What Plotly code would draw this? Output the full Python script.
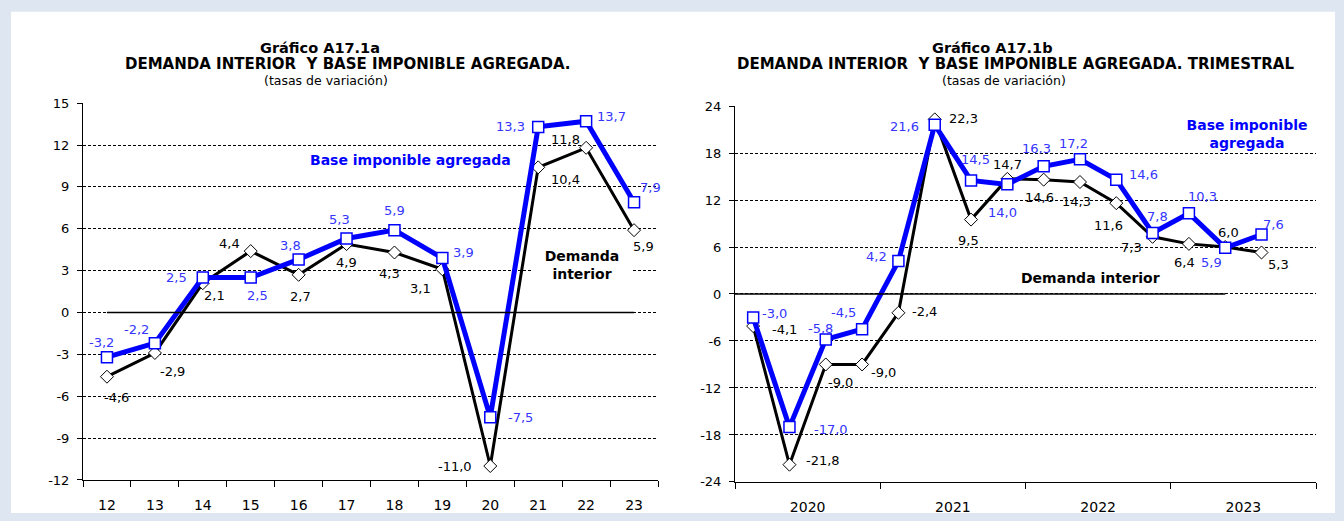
import plotly.graph_objects as go

# ---- data ----
years = ["12", "13", "14", "15", "16", "17", "18", "19", "20", "21", "22", "23"]
base_anual = [-3.2, -2.2, 2.5, 2.5, 3.8, 5.3, 5.9, 3.9, -7.5, 13.3, 13.7, 7.9]
demanda_anual = [-4.6, -2.9, 2.1, 4.4, 2.7, 4.9, 4.3, 3.1, -11.0, 10.4, 11.8, 5.9]

year_labels = ["2020", "2021", "2022", "2023"]
quarters = ["2020T1", "2020T2", "2020T3", "2020T4",
            "2021T1", "2021T2", "2021T3", "2021T4",
            "2022T1", "2022T2", "2022T3", "2022T4",
            "2023T1", "2023T2", "2023T3"]
base_trim = [-3.0, -17.0, -5.8, -4.5, 4.2, 21.6, 14.5, 14.0, 16.3, 17.2, 14.6, 7.8, 10.3, 5.9, 7.6]
demanda_trim = [-4.1, -21.8, -9.0, -9.0, -2.4, 22.3, 9.5, 14.7, 14.6, 14.3, 11.6, 7.3, 6.4, 6.0, 5.3]

yticks_a = [-12, -9, -6, -3, 0, 3, 6, 9, 12, 15]
yticks_b = [-24, -18, -12, -6, 0, 6, 12, 18, 24]

# ---- styles ----
FONT = "DejaVu Sans"
BLUE = "#0000ff"
LBLUE = "#3535ff"
BG = "#dde6f1"

# label offsets (dx, dy in px, dy positive = down)
off_base_a = [(-5, -15), (-18, -14), (-26, 0), (7, 18), (-8, -14), (-7, -19), (0, -20),
              (21, -6), (30, 0), (-28, 0), (25, -5), (16, -15)]
off_dem_a = [(10, 21), (18, 19), (12, 12), (-21, -8), (2, 22), (0, 18), (-5, 21),
             (-22, 19), (-35, 0), (27, 12), (-21, -8), (9, 16)]
off_base_t = [(21, -4), (42, 2), (-5, -11), (-19, -17), (-22, -5), (-30, 2), (4, -21),
              (-5, 28), (-7, -18), (-6, -16), (27, -5), (5, -16), (14, -17), (-14, 15), (12, -10)]
off_dem_t = [(31, 3), (34, -4), (15, 18), (21, 8), (26, -1), (29, -1), (-3, 21), (0, -14),
             (-4, 18), (-3, 19), (-8, 22), (-21, 11), (-4, 19), (3, -15), (17, 12)]

fig = go.Figure()

# ---- chart a (annual) ----
fig.add_trace(go.Scatter(
    x=years, y=demanda_anual, mode="lines+markers", xaxis="x", yaxis="y",
    line=dict(color="black", width=3),
    marker=dict(symbol="diamond", size=10, color="white", line=dict(color="black", width=1)),
    showlegend=False))
fig.add_trace(go.Scatter(
    x=years, y=base_anual, mode="lines+markers", xaxis="x", yaxis="y",
    line=dict(color=BLUE, width=5),
    marker=dict(symbol="square", size=11, color="white", line=dict(color=BLUE, width=1.5)),
    showlegend=False))

# ---- chart b (quarterly) ----
qx = [i + 0.5 for i in range(len(quarters))]
fig.add_trace(go.Scatter(
    x=qx, y=demanda_trim, mode="lines+markers", xaxis="x2", yaxis="y2",
    line=dict(color="black", width=3),
    marker=dict(symbol="diamond", size=10, color="white", line=dict(color="black", width=1)),
    showlegend=False))
fig.add_trace(go.Scatter(
    x=qx, y=base_trim, mode="lines+markers", xaxis="x2", yaxis="y2",
    line=dict(color=BLUE, width=5),
    marker=dict(symbol="square", size=11, color="white", line=dict(color=BLUE, width=1.5)),
    showlegend=False))

annotations = []


def fmt(v):
    return f"{v:.1f}".replace(".", ",")


def add_labels(xs, vals, offs, xref, yref, color):
    for xv, v, (dx, dy) in zip(xs, vals, offs):
        annotations.append(dict(x=xv, y=v, xref=xref, yref=yref, text=fmt(v), showarrow=False,
                                xanchor="center", yanchor="middle",
                                xshift=dx, yshift=-dy, font=dict(color=color, size=13, family=FONT)))


add_labels(list(range(len(years))), base_anual, off_base_a, "x", "y", LBLUE)
add_labels(list(range(len(years))), demanda_anual, off_dem_a, "x", "y", "black")
add_labels(qx, base_trim, off_base_t, "x2", "y2", LBLUE)
add_labels(qx, demanda_trim, off_dem_t, "x2", "y2", "black")

W, H = 1344, 521


def note(cx, cy, text, size, color="black", **kw):
    annotations.append(dict(x=cx / W, y=1 - cy / H, xref="paper", yref="paper", text=text,
                            showarrow=False, xanchor="center", yanchor="middle",
                            font=dict(size=size, family=FONT, color=color), **kw))


# titles
note(320, 42, "<b>Gráfico A17.1a</b>", 14.5)
note(992, 42, "<b>Gráfico A17.1b</b>", 14.5)
note(347, 59, "<b>DEMANDA INTERIOR  Y BASE IMPONIBLE AGREGADA.</b>", 15)
note(1015, 59, "<b>DEMANDA INTERIOR  Y BASE IMPONIBLE AGREGADA. TRIMESTRAL</b>", 15)
note(326, 76, "(tasas de variación)", 12.5)
note(1004, 76, "(tasas de variación)", 12.5)

# series names
note(410, 158, "<b>Base imponible agregada</b>", 14, BLUE)
note(582, 266, "<b>Demanda<br>interior</b>", 14, bgcolor="white", width=96)
note(1247, 131, "<b>Base imponible<br>agregada</b>", 14, BLUE, bgcolor="white", width=146)
note(1090, 279, "<b>Demanda interior</b>", 14)

shapes = [
    # white panel
    dict(type="rect", xref="paper", yref="paper", x0=11 / W, x1=1335 / W, y0=0, y1=1 - 5 / H,
         fillcolor="white", line=dict(width=0), layer="below"),
    # zero lines
    dict(type="line", xref="x", yref="y", x0=0, x1=len(years) - 1, y0=0, y1=0,
         line=dict(color="black", width=1.5)),
    dict(type="line", xref="x2", yref="y2", x0=0, x1=13.5, y0=0, y1=0,
         line=dict(color="black", width=1.5)),
]

grid = dict(showgrid=True, gridcolor="black", gridwidth=1, griddash="3px,2px")
axfont = dict(size=13, family=FONT, color="black")
xfont = dict(size=14, family=FONT, color="black")

fig.update_layout(
    width=W, height=H,
    margin=dict(l=0, r=0, t=0, b=0),
    paper_bgcolor=BG, plot_bgcolor="rgba(0,0,0,0)",
    annotations=annotations, shapes=shapes,
    xaxis=dict(domain=[83 / W, 658 / W], type="category", range=[-0.5, len(years) - 0.5],
               tickson="boundaries", ticks="outside", ticklen=6, tickcolor="black",
               showline=True, linecolor="black", linewidth=1, showgrid=False,
               tickfont=xfont, ticklabelstandoff=12, anchor="y"),
    yaxis=dict(domain=[1 - 487 / H, 1 - 99 / H], range=[-12, 15],
               tickvals=yticks_a, ticktext=[str(t) for t in yticks_a],
               ticks="outside", ticklen=5, tickcolor="black", showline=True,
               linecolor="black", linewidth=1, zeroline=False, tickfont=axfont,
               ticklabelstandoff=5, anchor="x", **grid),
    xaxis2=dict(domain=[735 / W, 1316 / W], range=[0, 16], tickvals=[2, 6, 10, 14],
                ticktext=year_labels, ticks="", showline=True, linecolor="black",
                linewidth=1, showgrid=False, tickfont=xfont, ticklabelstandoff=12,
                anchor="y2",
                minor=dict(ticks="outside", ticklen=6, tickcolor="black", tick0=0, dtick=4,
                           showgrid=False)),
    yaxis2=dict(domain=[1 - 489 / H, 1 - 102 / H], range=[-24, 24],
                tickvals=yticks_b, ticktext=[str(t) for t in yticks_b],
                ticks="outside", ticklen=5, tickcolor="black", showline=True,
                linecolor="black", linewidth=1, zeroline=False, tickfont=axfont,
                ticklabelstandoff=5, anchor="x2", **grid),
)

fig.write_html("out.html", config={"displayModeBar": False},
               post_script="document.body.style.margin='0px';")
